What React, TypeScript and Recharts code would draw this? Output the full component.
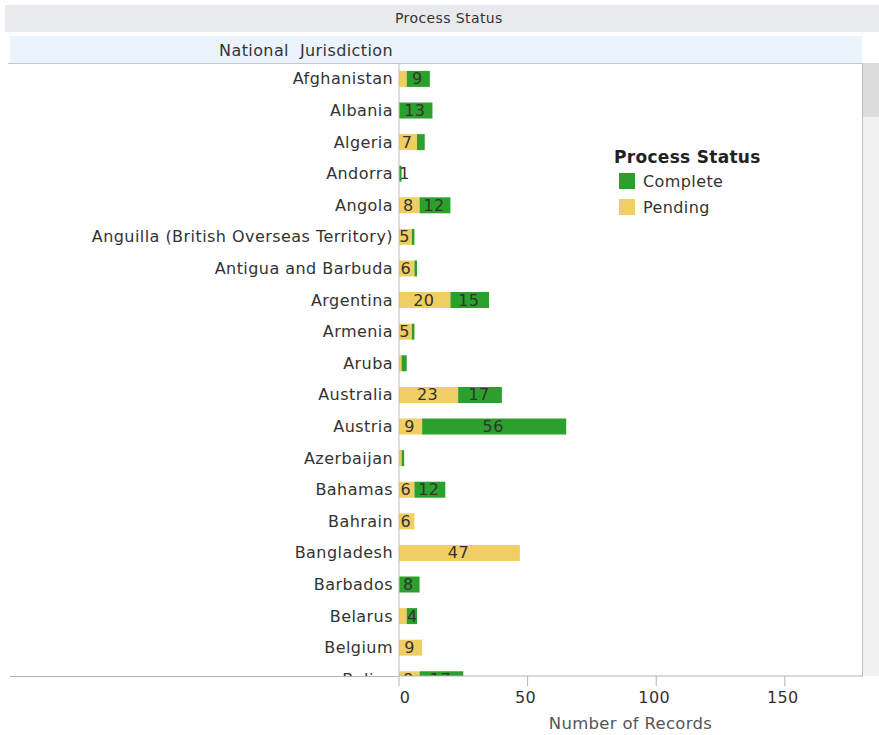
import React from "react";
import { BarChart, Bar, XAxis, YAxis, LabelList, Legend, ComposedChart, Label } from "recharts";

const categories = [
  "Afghanistan", "Albania", "Algeria", "Andorra", "Angola",
  "Anguilla (British Overseas Territory)", "Antigua and Barbuda", "Argentina", "Armenia", "Aruba",
  "Australia", "Austria", "Azerbaijan", "Bahamas", "Bahrain",
  "Bangladesh", "Barbados", "Belarus", "Belgium", "Belize",
];
const pending = [3, 0, 7, 0, 8, 5, 6, 20, 5, 1, 23, 9, 1, 6, 6, 47, 0, 3, 9, 8];
const complete = [9, 13, 3, 1, 12, 1, 1, 15, 1, 2, 17, 56, 1, 12, 0, 0, 8, 4, 0, 17];
const xTicks = [0, 50, 100, 150];
const xDomain = [0, 180];

const COLOR_COMPLETE = "#2ca02c";
const COLOR_PENDING = "#f1ce63";
const FONT = "'DejaVu Sans', Verdana, sans-serif";

const labelOf = (v: number, other: number) => (v >= 4 || (v > 0 && other === 0) ? String(v) : "");

const rows = categories.map((name, i) => ({
  name,
  pending: pending[i],
  complete: complete[i],
  pendingLabel: labelOf(pending[i], complete[i]),
  completeLabel: labelOf(complete[i], pending[i]),
}));

const BarLabel = (props: any) => {
  const { x, y, width, height, value } = props;
  if (value === "" || value === undefined || value === null) return null;
  const s = String(value);
  const half = s.length * 5 + 0.5;
  const cx = Math.max(x + width / 2 - 1, x + half);
  return (
    <text x={cx} y={y + height / 2} textAnchor="middle" dominantBaseline="central"
      fill="#333" fontSize={16} fontFamily={FONT} letterSpacing={0.4}>
      {s}
    </text>
  );
};

const LegendContent = (props: any) => {
  const payload = [...(props.payload || [])].sort((a: any, b: any) => (a.value === "Complete" ? -1 : b.value === "Complete" ? 1 : 0));
  return (
    <div style={{ fontFamily: FONT }}>
      <div style={{ fontWeight: "bold", fontSize: 17, color: "#222", lineHeight: "22px", letterSpacing: 0.3 }}>Process Status</div>
      {payload.map((p: any) => (
        <div key={p.value} style={{ display: "flex", alignItems: "center", height: 26, paddingLeft: 5 }}>
          <span style={{ width: 16, height: 16, background: p.color, display: "inline-block", marginRight: 8 }} />
          <span style={{ fontSize: 16, color: "#333", letterSpacing: 0.4 }}>{p.value}</span>
        </div>
      ))}
    </div>
  );
};

const XTick = (props: any) => {
  const { x, y, payload } = props;
  const shift = payload.value === 0 ? 6 : -2;
  return (
    <text x={x + shift} y={y} dy="0.8em" textAnchor="middle" fill="#333" fontSize={16}
      fontFamily={FONT} letterSpacing={0.4}>
      {payload.value}
    </text>
  );
};

export default function App() {
  return (
    <div style={{ position: "relative", width: 879, height: 735, background: "#fff", fontFamily: FONT, overflow: "hidden" }}>
      <style>{"html,body{margin:0;padding:0;}"}</style>
      {/* top header */}
      <div style={{ position: "absolute", left: 5, top: 5, width: 874, height: 27, background: "#e9eaed" }} />
      <div style={{ position: "absolute", left: 395, top: 10, fontSize: 14, color: "#333", letterSpacing: 0.4, whiteSpace: "pre" }}>Process Status</div>
      {/* row header */}
      <div style={{ position: "absolute", left: 10, top: 36, width: 852, height: 27, background: "#ebf3fd" }} />
      <div style={{ position: "absolute", right: 879 - 393, top: 41, fontSize: 16, color: "#333", letterSpacing: 0.4, whiteSpace: "pre" }}>National  Jurisdiction</div>
      {/* borders */}
      <div style={{ position: "absolute", left: 8, top: 63, width: 855, height: 1, background: "#c8c8c8" }} />
      <div style={{ position: "absolute", left: 10, top: 676, width: 389, height: 1, background: "#b4b4b4" }} />
      <div style={{ position: "absolute", left: 862, top: 63, width: 1, height: 614, background: "#c0c0c0" }} />
      {/* scrollbar */}
      <div style={{ position: "absolute", left: 863, top: 63, width: 16, height: 613, background: "#f1f1f1" }} />
      <div style={{ position: "absolute", left: 863, top: 63, width: 16, height: 54, background: "#dcdcdc" }} />

      {/* main chart (scroll viewport) */}
      <div style={{ position: "absolute", left: 0, top: 63, width: 862, height: 613, overflow: "hidden" }}>
        <BarChart width={862} height={632} data={rows} layout="vertical" barCategoryGap="25%"
          margin={{ top: 0, right: 0, bottom: 0, left: 0 }}>
          <XAxis type="number" domain={xDomain} hide allowDataOverflow />
          <YAxis type="category" dataKey="name" width={399} interval={0} tickLine={false} tickSize={0} tickMargin={6}
            axisLine={{ stroke: "#bdbdbd" }}
            tick={{ fill: "#333", fontSize: 16, fontFamily: FONT, letterSpacing: 0.45 }} />
          <Legend layout="vertical" align="center" verticalAlign="middle" content={<LegendContent />}
            wrapperStyle={{ left: 614, top: 83, width: 200, height: 80 }} />
          <Bar dataKey="pending" name="Pending" stackId="s" fill={COLOR_PENDING} isAnimationActive={false}>
            <LabelList dataKey="pendingLabel" content={<BarLabel />} />
          </Bar>
          <Bar dataKey="complete" name="Complete" stackId="s" fill={COLOR_COMPLETE} isAnimationActive={false}>
            <LabelList dataKey="completeLabel" content={<BarLabel />} />
          </Bar>
        </BarChart>
      </div>

      {/* x axis chart */}
      <div style={{ position: "absolute", left: 0, top: 666, width: 862, height: 69 }}>
        <ComposedChart width={862} height={69} data={rows} margin={{ top: 0, right: 0, bottom: 0, left: 399 }}>
          <XAxis type="number" dataKey="pending" domain={xDomain} ticks={xTicks} allowDataOverflow height={59}
            axisLine={{ stroke: "#b4b4b4" }} tickLine={{ stroke: "#b4b4b4" }} tickSize={10} tickMargin={4}
            tick={<XTick />}>
            <Label value="Number of Records" position="insideBottom" offset={6} fill="#555" fontSize={16.5}
              fontFamily={FONT} letterSpacing={0.3} />
          </XAxis>
        </ComposedChart>
      </div>
    </div>
  );
}
